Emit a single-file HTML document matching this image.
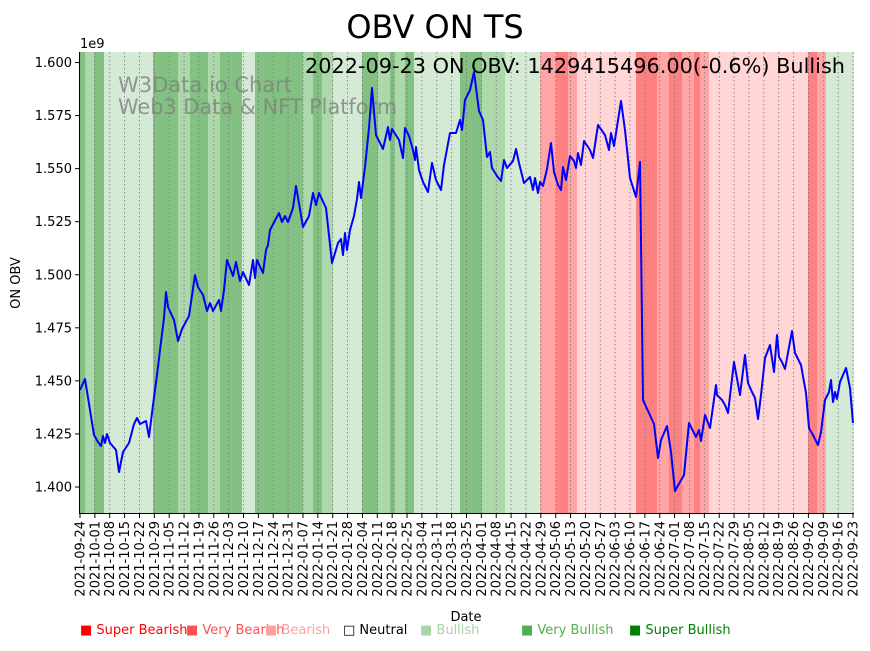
<!DOCTYPE html>
<html><head><meta charset="utf-8"><style>
body{margin:0;background:#fff;width:870px;height:646px;overflow:hidden;font-family:"Liberation Sans","DejaVu Sans",sans-serif}
</style></head><body>
<svg id="s" width="870" height="646" xmlns="http://www.w3.org/2000/svg" font-family="DejaVu Sans, Liberation Sans, sans-serif">
<g id="bands"></g>
<g id="grid"></g>
<text x="118" y="92" font-size="21" fill="#808080" fill-opacity="0.8">W3Data.io Chart</text>
<text x="118" y="114" font-size="21" fill="#808080" fill-opacity="0.8" textLength="279" lengthAdjust="spacingAndGlyphs">Web3 Data &amp; NFT Platform</text>
<polyline fill="none" stroke="#0000ff" stroke-width="2" stroke-linejoin="round" points="80,390 85,379 90,410 94,435 98,442 101,446 103,436 105,443 107,434 110,443 116,450 119,472 123,452 129,443 134,424 137,418 140,424 146,421 149,437 153,405 157,375 160,350 164,318 166,292 168,307 174,320 178,341 182,329 189,316 195,275 198,287 203,295 207,311 210,303 213,311 219,300 221,311 224,290 227,260 233,276 236,262 240,281 243,272 249,285 253,260 255,278 257,260 263,273 266,250 268,245 270,230 279,213 282,222 285,216 288,222 293,208 296,186 303,227 309,216 313,193 316,205 319,193 326,208 332,263 338,243 341,239 343,255 345,233 347,250 350,230 354,216 357,199 359,182 361,198 365,167 369,128 372,88 376,135 383,149 388,127 390,140 392,129 399,140 403,158 405,128 409,136 413,150 415,160 416,147 419,170 423,182 428,192 432,163 436,180 441,190 444,165 450,133 456,133 460,120 462,130 465,100 470,90 474,72 479,111 483,120 487,157 490,152 492,168 497,176 501,181 504,160 507,168 513,161 516,149 519,163 524,183 530,177 533,190 535,178 538,193 540,182 543,186 547,169 551,143 554,172 558,185 561,190 563,167 566,180 570,156 574,161 576,168 578,153 581,165 584,141 590,150 593,158 598,125 605,135 609,150 611,133 614,146 621,101 625,130 630,178 636,197 640,162 643,400 654,424 658,458 661,440 667,426 671,452 675,491 680,482 684,475 689,423 696,437 699,430 701,441 705,415 710,428 716,385 717,395 722,400 725,405 728,413 734,362 740,395 745,355 748,383 752,392 755,398 758,419 761,395 765,358 770,345 774,372 777,335 779,357 782,362 785,369 792,331 795,353 801,365 806,393 809,428 813,435 818,445 821,432 825,400 829,392 831,380 833,402 835,392 837,399 840,382 846,368 850,388 853,423"/>
<line x1="79.5" y1="52" x2="79.5" y2="514" stroke="#000" stroke-width="1"/>
<line x1="79" y1="513.5" x2="854" y2="513.5" stroke="#000" stroke-width="1"/>
<g id="yt" font-size="13"></g>
<g id="xt" font-size="13"></g>
<text x="435" y="38" font-size="32" text-anchor="middle">OBV ON TS</text>
<text x="305" y="73" font-size="20" textLength="540" lengthAdjust="spacingAndGlyphs">2022-09-23 ON OBV: 1429415496.00(-0.6%) Bullish</text>
<text x="80" y="48" font-size="13">1e9</text>
<text x="466" y="621" font-size="13" text-anchor="middle">Date</text>
<text x="20" y="283" font-size="13" text-anchor="middle" transform="rotate(-90 20 283)">ON OBV</text>
<g font-size="13">
<text x="80" y="634" fill="#ff0000">■ Super Bearish</text>
<text x="186" y="634" fill="#ff5050">■ Very Bearish</text>
<text x="265" y="634" fill="#ffa0a0">■ Bearish</text>
<text x="343" y="634" fill="#000">□ Neutral</text>
<text x="420" y="634" fill="#a8d5a8">■ Bullish</text>
<text x="521" y="634" fill="#50b050">■ Very Bullish</text>
<text x="629" y="634" fill="#008000">■ Super Bullish</text>
</g>
</svg>
<script>
var ns="http://www.w3.org/2000/svg";
function el(p,t,a,txt){var e=document.createElementNS(ns,t);for(var k in a)e.setAttribute(k,a[k]);if(txt)e.textContent=txt;document.getElementById(p).appendChild(e);}
var M="#82c182",L="#acd8ac",W="#d5ead5",R="#ff8080",P="#ffa5a5",Q="#ffd5d5";
var b=[[80,85,M],[85,94,L],[94,104,M],[104,153,W],[153,178,M],[178,190,L],[190,208,M],[208,220,L],[220,242,M],[242,255,W],[255,303,M],[303,313,L],[313,322,M],[322,333,L],[333,362,W],[362,378,M],[378,390,L],[390,395,M],[395,405,L],[405,414,M],[414,460,W],[460,482,M],[482,505,L],[505,540,W],[540,556,P],[556,568,R],[568,577,P],[577,636,Q],[636,657,R],[657,669,P],[669,682,R],[682,694,P],[694,700,R],[700,709,P],[709,808,Q],[808,817,R],[817,826,P],[826,854,W]];
b.forEach(function(r){el("bands","rect",{x:r[0],y:52,width:r[1]-r[0],height:461,fill:r[2]});});
var d=new Date(Date.UTC(2021,8,24));
for(var i=0;i<53;i++){var x=80+i*773/52;
 var s=d.toISOString().slice(0,10);
 el("grid","line",{x1:x,y1:52,x2:x,y2:513,stroke:"#777","stroke-width":0.8,"stroke-dasharray":"1.5,2.5"});
 el("xt","line",{x1:x,y1:513,x2:x,y2:518,stroke:"#000"});
 el("xt","text",{x:0,y:0,"text-anchor":"end",transform:"translate("+(x+4.5)+",521) rotate(-90)"},s);
 d.setUTCDate(d.getUTCDate()+7);}
for(var j=0;j<9;j++){var v=1.4+j*0.025,y=487-j*53.06;
 el("yt","line",{x1:75,y1:y,x2:80,y2:y,stroke:"#000"});
 el("yt","text",{x:72,y:y+4.5,"text-anchor":"end"},v.toFixed(3));}
</script>
</body></html>
